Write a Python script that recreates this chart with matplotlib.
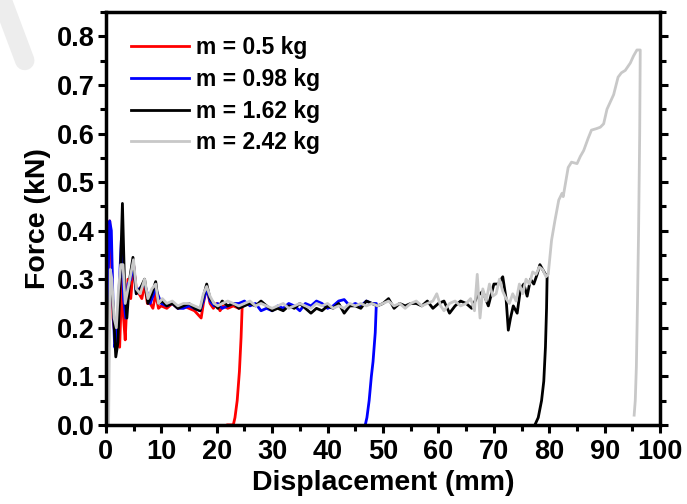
import matplotlib
matplotlib.use("Agg")
import matplotlib.pyplot as plt
from matplotlib.ticker import MultipleLocator
from matplotlib.lines import Line2D

plt.rcParams['font.family'] = ['Liberation Sans', 'DejaVu Sans']
plt.rcParams['font.weight'] = 'bold'

# m = 0.5 kg
x_red = [0.0, 0.3, 0.7, 1.0, 1.3, 1.7, 2.1, 2.5, 2.9, 3.2,
         3.5, 4.0, 4.5, 5.0, 5.5, 6.0, 6.5, 7.0, 7.5, 8.0,
         8.5, 9.0, 9.5, 10.0, 11.0, 12.0, 13.0, 14.0, 15.0, 16.0,
         17.2, 17.6, 18.2, 18.8, 19.4, 20.0, 20.6, 21.2, 22.0, 23.0,
         24.0, 24.6, 24.4, 24.1, 23.7, 23.3, 23.0, 22.0]
y_red = [0.0, 0.25, 0.42, 0.35, 0.22, 0.18, 0.17, 0.16, 0.30, 0.22,
         0.175, 0.30, 0.26, 0.33, 0.28, 0.27, 0.26, 0.29, 0.25, 0.25,
         0.24, 0.27, 0.24, 0.245, 0.24, 0.25, 0.24, 0.245, 0.24, 0.235,
         0.22, 0.25, 0.285, 0.25, 0.24, 0.25, 0.235, 0.245, 0.24, 0.245,
         0.24, 0.245, 0.18, 0.11, 0.05, 0.015, 0.0, 0.0]

# m = 0.98 kg
x_blue = [0.1, 0.4, 0.7, 1.0, 1.3, 1.6, 2.0, 2.4, 2.8, 3.2,
          3.6, 4.0, 4.5, 5.0, 5.5, 6.0, 7.0, 8.0, 9.0, 10.0,
          11, 12, 13, 14, 15, 16, 17, 17.6, 18.2, 18.8,
          19.5, 20.2, 21, 22, 23, 24, 25, 26, 27, 28,
          29, 30, 31, 32, 33, 34, 35, 36, 37, 38,
          39, 40, 41, 42, 43, 44, 45, 46, 47, 48,
          48.8, 48.6, 48.2, 47.9, 47.5, 47.1, 46.8]
y_blue = [0.0, 0.30, 0.42, 0.40, 0.25, 0.16, 0.18, 0.28, 0.38, 0.26,
          0.22, 0.29, 0.30, 0.33, 0.27, 0.28, 0.29, 0.25, 0.28, 0.25,
          0.245, 0.25, 0.24, 0.24, 0.245, 0.24, 0.235, 0.255, 0.28, 0.255,
          0.245, 0.25, 0.24, 0.245, 0.25, 0.25, 0.255, 0.245, 0.25, 0.235,
          0.24, 0.235, 0.245, 0.24, 0.25, 0.245, 0.235, 0.25, 0.245, 0.255,
          0.25, 0.24, 0.245, 0.255, 0.258, 0.245, 0.25, 0.245, 0.255, 0.25,
          0.25, 0.19, 0.13, 0.10, 0.05, 0.015, 0.0]

# m = 1.62 kg
x_black = [0.2, 0.5, 0.9, 1.3, 1.8, 2.2, 2.6, 3.0, 3.4, 3.8,
           4.3, 4.9, 5.5, 6.2, 7.0, 7.6, 8.3, 9.0, 9.5, 10.2,
           11, 12, 13, 14, 15, 16, 17, 17.6, 18.2, 18.8,
           19.5, 20.2, 21, 22, 23, 24, 25, 26, 27, 28,
           29, 30, 31, 32, 33, 34, 35, 36, 37, 38,
           39, 40, 41, 42, 43, 44, 45, 46, 47, 48,
           49, 50, 51, 52, 53, 54, 55, 56, 57, 58,
           59, 60, 61, 62, 63, 64, 65, 66, 67, 68,
           69, 70, 70.8, 71.6, 72.2, 72.6, 73.0, 73.5, 74.2, 74.8,
           75.4, 76.0, 76.6, 77.2, 77.8, 78.3, 78.8, 79.3, 79.6, 79.5,
           79.3, 79.0, 78.6, 78.0, 77.4]
y_black = [0.0, 0.22, 0.30, 0.25, 0.14, 0.17, 0.30, 0.456, 0.28, 0.22,
           0.30, 0.345, 0.27, 0.28, 0.30, 0.25, 0.27, 0.295, 0.25, 0.255,
           0.245, 0.25, 0.24, 0.245, 0.25, 0.24, 0.235, 0.265, 0.29, 0.26,
           0.25, 0.24, 0.255, 0.245, 0.25, 0.24, 0.245, 0.25, 0.245, 0.255,
           0.245, 0.235, 0.24, 0.235, 0.245, 0.24, 0.25, 0.24, 0.23, 0.24,
           0.235, 0.245, 0.24, 0.25, 0.23, 0.245, 0.245, 0.24, 0.255, 0.25,
           0.245, 0.25, 0.26, 0.24, 0.25, 0.245, 0.25, 0.25, 0.245, 0.255,
           0.24, 0.25, 0.255, 0.23, 0.245, 0.255, 0.25, 0.24, 0.265, 0.275,
           0.245, 0.29, 0.29, 0.305, 0.26, 0.195, 0.22, 0.245, 0.23, 0.28,
           0.29, 0.265, 0.30, 0.29, 0.31, 0.33, 0.32, 0.31, 0.305, 0.24,
           0.16, 0.09, 0.05, 0.015, 0.0]

# m = 2.42 kg
x_gray = [0.5, 0.8, 1.1, 1.5, 1.9, 2.3, 2.7, 3.1, 3.5, 4.0,
          4.5, 5.0, 5.5, 6.2, 7.0, 7.6, 8.3, 9.0, 9.5, 10.2,
          11, 12, 13, 14, 15, 16, 17, 17.6, 18.2, 18.8,
          19.5, 20.2, 21, 22, 23, 24, 25, 26, 27, 28,
          29, 30, 31, 32, 33, 34, 35, 36, 37, 38,
          39, 40, 41, 42, 43, 44, 45, 46, 47, 48,
          49, 50, 51, 52, 53, 54, 55, 56, 57, 58,
          59, 59.7, 60.4, 61, 62, 63, 64, 65, 65.8, 66.5,
          67.0, 67.5, 68.0, 68.6, 69.2, 69.8, 70.4, 71.0, 71.6, 72.2,
          72.8, 73.4, 74.0, 74.6, 75.2, 75.8, 76.4, 77.0, 77.6, 78.2,
          78.8, 79.4, 79.8, 80.4, 81.0, 81.7, 82.3, 82.5, 83.4, 84.0,
          85.0, 85.6, 86.2, 87.0, 87.6, 88.5, 89.2, 89.8, 90.4, 91.0,
          91.6, 92.4, 93.0, 93.7, 94.6, 95.2, 95.8, 96.4, 96.3, 96.1,
          95.9, 95.7, 95.5, 95.3]
y_gray = [0.0, 0.32, 0.30, 0.22, 0.20, 0.28, 0.33, 0.33, 0.25, 0.28,
          0.31, 0.34, 0.28, 0.27, 0.30, 0.26, 0.28, 0.29, 0.25, 0.26,
          0.25, 0.255, 0.245, 0.25, 0.25, 0.245, 0.24, 0.27, 0.285, 0.265,
          0.25, 0.245, 0.25, 0.255, 0.25, 0.245, 0.25, 0.255, 0.245, 0.25,
          0.245, 0.24, 0.245, 0.25, 0.24, 0.245, 0.25, 0.245, 0.24, 0.25,
          0.245, 0.25, 0.24, 0.245, 0.24, 0.25, 0.245, 0.25, 0.245, 0.25,
          0.245, 0.25, 0.255, 0.245, 0.25, 0.24, 0.25, 0.255, 0.245, 0.25,
          0.255, 0.27, 0.245, 0.235, 0.25, 0.255, 0.245, 0.25, 0.26, 0.235,
          0.31, 0.22, 0.28, 0.255, 0.29, 0.265, 0.27, 0.30, 0.275, 0.26,
          0.25, 0.27, 0.255, 0.29, 0.27, 0.30, 0.29, 0.315, 0.31, 0.325,
          0.32, 0.305, 0.31, 0.38, 0.42, 0.463, 0.477, 0.47, 0.53, 0.541,
          0.538, 0.553, 0.565, 0.59, 0.607, 0.61, 0.613, 0.62, 0.65, 0.665,
          0.68, 0.716, 0.725, 0.73, 0.745, 0.76, 0.772, 0.772, 0.6, 0.4,
          0.25, 0.12, 0.05, 0.02]

labels = ['m = 0.5 kg', 'm = 0.98 kg', 'm = 1.62 kg', 'm = 2.42 kg']
colors = ['#ff0000', '#0000ff', '#000000', '#c8c8c8']

fig = plt.figure(figsize=(6.87, 5.04), dpi=100)
ax = fig.add_axes([0.154, 0.157, 0.807, 0.819])

# faint diagonal watermark band in the top-left corner
fig.add_artist(Line2D([-0.008, 0.036], [1.04, 0.88], transform=fig.transFigure,
                      color='#ededed', lw=14, solid_capstyle='round', zorder=0))

series = [(x_red, y_red), (x_blue, y_blue), (x_black, y_black), (x_gray, y_gray)]
for (xs, ys), c, lab in zip(series, colors, labels):
    ax.plot(xs, ys, color=c, lw=2.0, label=lab)

ax.set_xlim(0, 100)
ax.set_ylim(0, 0.85)
ax.xaxis.set_major_locator(MultipleLocator(10))
ax.xaxis.set_minor_locator(MultipleLocator(5))
ax.yaxis.set_minor_locator(MultipleLocator(0.05))
ax.set_yticks([0.0, 0.1, 0.2, 0.3, 0.4, 0.5, 0.6, 0.7, 0.8])
ax.set_yticklabels(['0.0', '0.1', '0.2', '0.3', '0.4', '0.5', '0.6', '0.7', '0.8'])

for s in ax.spines.values():
    s.set_linewidth(2.5)
ax.tick_params(which='major', direction='out', length=6, width=2.2,
               labelsize=19.5, right=True, top=False, pad=2)
ax.tick_params(axis='x', which='major', pad=4)
ax.tick_params(which='minor', direction='out', length=4, width=2.2,
               right=True, top=False)
for lab in ax.get_xticklabels() + ax.get_yticklabels():
    lab.set_fontweight('bold')

ax.set_xlabel('Displacement (mm)', fontsize=20.5, fontweight='bold', labelpad=4)
ax.set_ylabel('Force (kN)', fontsize=20.5, fontweight='bold', labelpad=4)

leg = ax.legend(loc='upper left', bbox_to_anchor=(0.02, 0.975), frameon=False,
                prop={'size': 16.5, 'weight': 'bold'}, handlelength=2.55,
                handletextpad=0.3, labelspacing=0.38, borderaxespad=0.2)

fig.savefig('out.png', dpi=100)
